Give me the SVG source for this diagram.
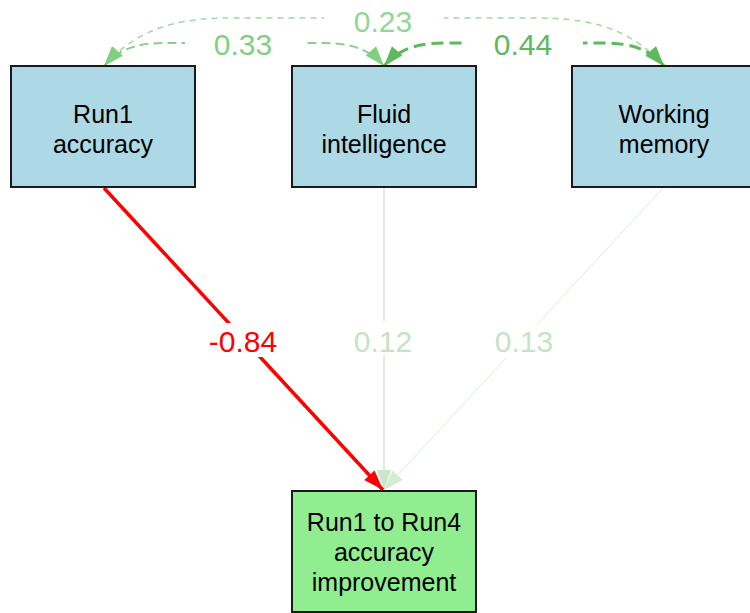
<svg xmlns="http://www.w3.org/2000/svg" width="750" height="613" viewBox="0 0 750 613">
  <style>
    .node { stroke: #1a1a1a; stroke-width: 2; }
    .obs { fill: #add8e6; }
    .out { fill: #90ee90; }
    .ntext { font-family: "Liberation Sans", Arial, sans-serif; font-size: 25px; fill: #000; text-anchor: middle; }
    .elab { font-family: "Liberation Sans", Arial, sans-serif; font-size: 30px; text-anchor: middle; }
    .lbg { fill: #ffffff; }
    .cov { fill: none; }
  </style>
  <defs>
    <marker id="ah-red" markerUnits="userSpaceOnUse" markerWidth="22" markerHeight="16" refX="20" refY="7" orient="auto" overflow="visible">
      <path d="M0,0 L20,7 L0,14 Z" fill="#ff0000"/>
    </marker>
    <marker id="ah-fi" markerUnits="userSpaceOnUse" markerWidth="22" markerHeight="16" refX="20" refY="7" orient="auto" overflow="visible">
      <path d="M0,0 L20,7 L0,14 Z" fill="#c9e8c9"/>
    </marker>
    <marker id="ah-wm" markerUnits="userSpaceOnUse" markerWidth="22" markerHeight="16" refX="20" refY="7" orient="auto" overflow="visible">
      <path d="M0,0 L20,7 L0,14 Z" fill="#d2edd2"/>
    </marker>
    <marker id="ah-23" markerUnits="userSpaceOnUse" markerWidth="22" markerHeight="16" refX="20" refY="7" orient="auto-start-reverse" overflow="visible">
      <path d="M0,0 L20,7 L0,14 Z" fill="#94d694"/>
    </marker>
    <marker id="ah-33" markerUnits="userSpaceOnUse" markerWidth="22" markerHeight="16" refX="20" refY="7" orient="auto-start-reverse" overflow="visible">
      <path d="M0,0 L20,7 L0,14 Z" fill="#82cf82"/>
    </marker>
    <marker id="ah-44" markerUnits="userSpaceOnUse" markerWidth="22" markerHeight="16" refX="20" refY="7" orient="auto-start-reverse" overflow="visible">
      <path d="M0,0 L20,7 L0,14 Z" fill="#5cba5c"/>
    </marker>
  </defs>

  <rect width="750" height="613" fill="#ffffff"/>

  <g id="connectors">
    <!-- regressions onto the outcome -->
    <g id="e-wm">
      <path d="M663,188 L384,490" fill="none" stroke="#d6eed6" stroke-width="1" marker-end="url(#ah-wm)"/>
      <rect class="lbg" x="464" y="324" width="120" height="34"/>
      <text class="elab" x="524" y="352" fill="#c4e4c4">0.13</text>
    </g>
    <g id="e-fi">
      <path d="M384,188 L384,490" fill="none" stroke="#d0ebd0" stroke-width="1.5" marker-end="url(#ah-fi)"/>
      <rect class="lbg" x="324" y="321" width="120" height="34"/>
      <text class="elab" x="383" y="352" fill="#c4e4c4">0.12</text>
    </g>
    <g id="e-run1">
      <path d="M104,188 L383,490" fill="none" stroke="#ff0000" stroke-width="3.5" marker-end="url(#ah-red)"/>
      <rect class="lbg" x="183" y="323" width="120" height="34"/>
      <text class="elab" x="243" y="352" fill="#ff0000">-0.84</text>
    </g>

    <!-- covariances between predictors -->
    <g id="c-23">
      <path d="M104,66 C130,38 160,18 230,18 L538,18 C608,18 638,38 664,66" fill="none" stroke="#a0dba0" stroke-width="1.5" stroke-dasharray="6 5" marker-start="url(#ah-23)" marker-end="url(#ah-23)"/>
      <rect class="lbg" x="324" y="4" width="120" height="32"/>
      <text class="elab" x="383" y="32" fill="#94d694">0.23</text>
    </g>
    <g id="c-33">
      <path d="M104,66 C118,50 135,43 165,43 L323,43 C353,43 370,50 384,66" fill="none" stroke="#88d188" stroke-width="2" stroke-dasharray="9 5" marker-start="url(#ah-33)" marker-end="url(#ah-33)"/>
      <rect class="lbg" x="185" y="28" width="120" height="31"/>
      <text class="elab" x="243" y="55" fill="#82cf82">0.33</text>
    </g>
    <g id="c-44">
      <path d="M384,66 C398,50 415,43 445,43 L603,43 C633,43 650,50 664,66" fill="none" stroke="#5cba5c" stroke-width="3" stroke-dasharray="12 6" marker-start="url(#ah-44)" marker-end="url(#ah-44)"/>
      <rect class="lbg" x="463" y="28" width="120" height="31"/>
      <text class="elab" x="523" y="55" fill="#5cba5c">0.44</text>
    </g>
  </g>

  <g id="run1_accuracy">
    <rect class="node obs" x="11" y="66" width="184" height="121"/>
    <text class="ntext" x="103" y="123">Run1</text>
    <text class="ntext" x="103" y="153">accuracy</text>
  </g>

  <g id="fluid_intelligence">
    <rect class="node obs" x="292" y="66" width="184" height="121"/>
    <text class="ntext" x="384" y="123">Fluid</text>
    <text class="ntext" x="384" y="153">intelligence</text>
  </g>

  <g id="working_memory">
    <rect class="node obs" x="572" y="66" width="184" height="121"/>
    <text class="ntext" x="664" y="123">Working</text>
    <text class="ntext" x="664" y="153">memory</text>
  </g>

  <g id="accuracy_improvement">
    <rect class="node out" x="292" y="491" width="184" height="121"/>
    <text class="ntext" x="384" y="531">Run1 to Run4</text>
    <text class="ntext" x="384" y="561">accuracy</text>
    <text class="ntext" x="384" y="591">improvement</text>
  </g>
</svg>
